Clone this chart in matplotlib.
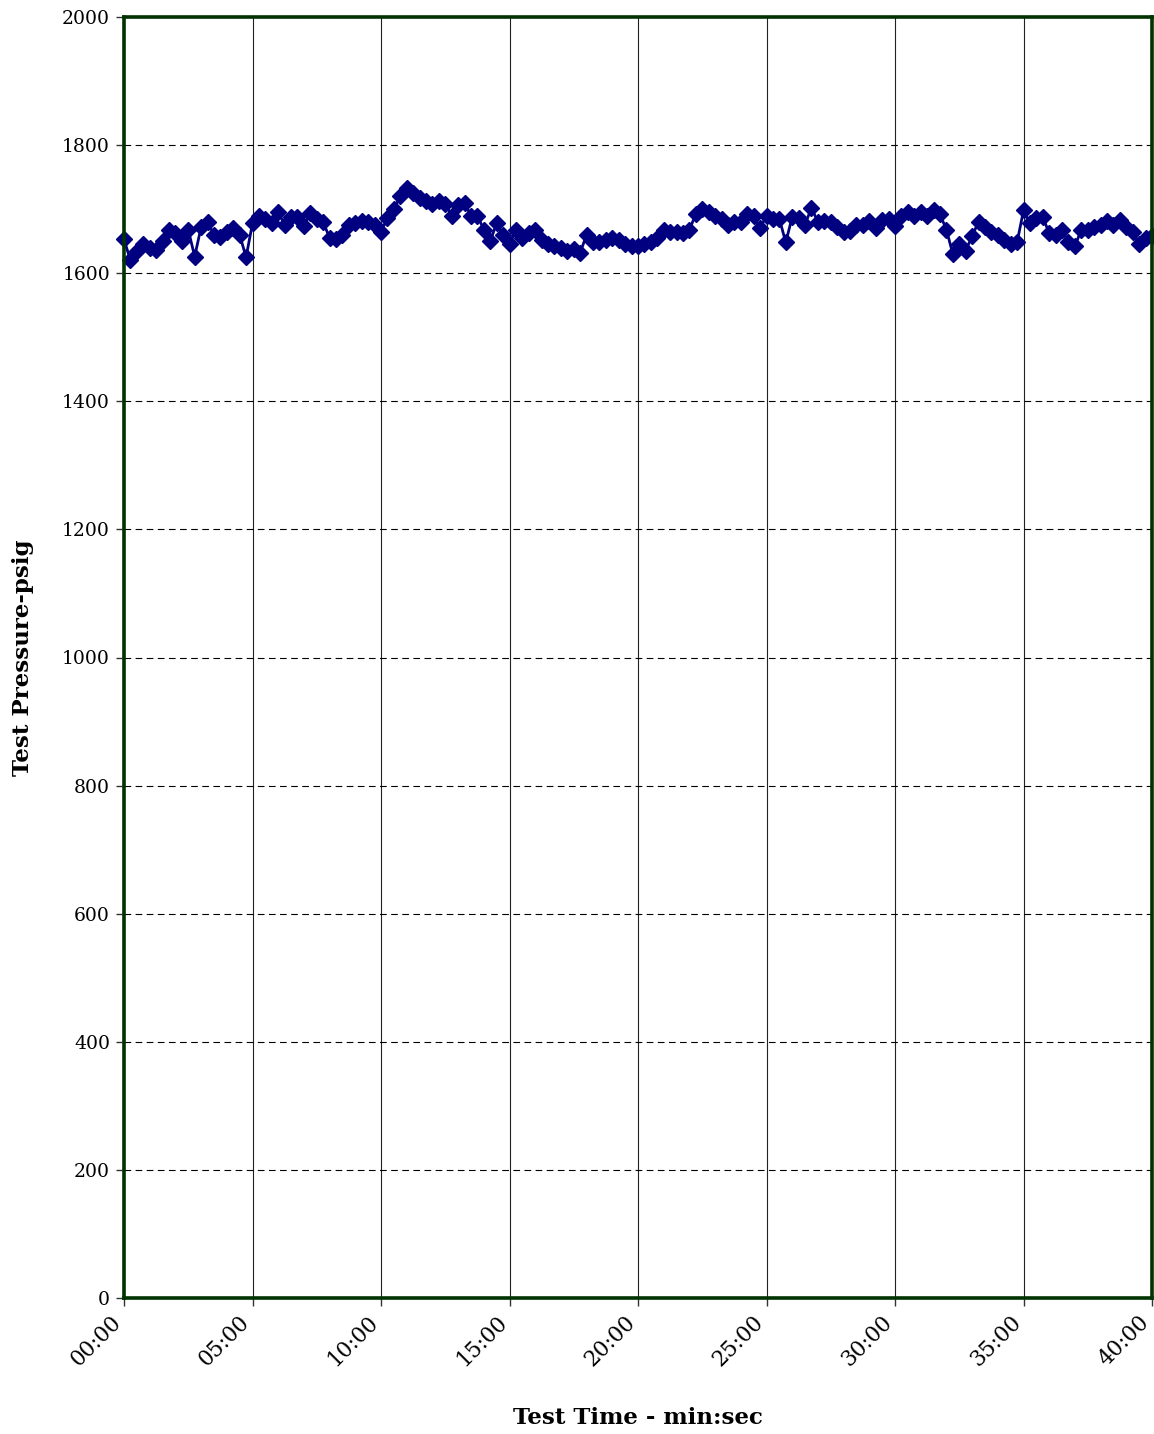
import matplotlib
matplotlib.use("Agg")
import matplotlib.pyplot as plt
import numpy as np
from matplotlib.ticker import FixedLocator, FuncFormatter
from matplotlib.transforms import ScaledTranslation

# Data: test pressure sampled every 15 s over 40 minutes
interval_min = 0.25
pressure = [
    1653, 1620, 1635, 1645, 1640, 1636, 1650, 1668, 1662, 1650,
    1668, 1626, 1672, 1680, 1660, 1657, 1665, 1670, 1660, 1625,
    1678, 1690, 1685, 1678, 1695, 1676, 1688, 1688, 1674, 1694,
    1685, 1680, 1655, 1654, 1660, 1675, 1678, 1682, 1680, 1675,
    1665, 1686, 1700, 1720, 1733, 1725, 1718, 1712, 1708, 1712,
    1708, 1690, 1706, 1710, 1690, 1690, 1668, 1650, 1678, 1660,
    1645, 1668, 1655, 1662, 1668, 1652, 1645, 1642, 1640, 1635,
    1638, 1632, 1660, 1648, 1648, 1652, 1655, 1652, 1645, 1642,
    1643, 1645, 1648, 1655, 1668, 1665, 1665, 1662, 1668, 1692,
    1700, 1695, 1690, 1685, 1676, 1680, 1680, 1692, 1690, 1670,
    1690, 1685, 1685, 1648, 1688, 1686, 1676, 1702, 1680, 1682,
    1680, 1672, 1664, 1666, 1676, 1676, 1682, 1670, 1683, 1685,
    1673, 1690, 1695, 1690, 1695, 1690, 1698, 1692, 1668, 1630,
    1645, 1635, 1658, 1680, 1672, 1665, 1660, 1652, 1645, 1648,
    1698, 1678, 1686, 1688, 1662, 1660, 1668, 1648, 1642, 1668,
    1668, 1672, 1675, 1682, 1676, 1683, 1672, 1665, 1645, 1655,
    1658,
]
time_min = np.arange(len(pressure)) * interval_min

x_ticks = [0, 5, 10, 15, 20, 25, 30, 35, 40]
y_ticks = [0, 200, 400, 600, 800, 1000, 1200, 1400, 1600, 1800, 2000]

plt.rcParams['font.family'] = ['DejaVu Serif']

fig = plt.figure(figsize=(11.54, 14.34), dpi=100)
ax = fig.add_axes([124 / 1154, 1 - 1298 / 1434, (1152 - 124) / 1154, (1298 - 17) / 1434])

ax.plot(time_min, pressure, color='#000080', lw=2, marker='D', markersize=8,
        markerfacecolor='#000080', markeredgecolor='#000080', zorder=3, clip_on=False)

ax.set_xlim(0, 40)
ax.set_ylim(0, 2000)
ax.xaxis.set_major_locator(FixedLocator(x_ticks))
ax.yaxis.set_major_locator(FixedLocator(y_ticks))
ax.xaxis.set_major_formatter(FuncFormatter(lambda v, p: f"{int(round(v)):02d}:00"))

ax.xaxis.grid(True, color='#222222', lw=0.8, ls='-')
ax.yaxis.grid(True, color='black', lw=0.8, ls=(0, (6, 4)))
ax.set_axisbelow(True)

for s in ax.spines.values():
    s.set_color('#003300')
    s.set_linewidth(2.6)
    s.set_zorder(4)

ax.tick_params(axis='y', direction='out', length=6, width=1, color='#333333',
               labelsize=13.5, pad=4)
ax.tick_params(axis='x', direction='out', length=6, width=1, color='#333333',
               labelsize=15.5, pad=9)
offset = ScaledTranslation(-6 / 100, 0, fig.dpi_scale_trans)
for lab in ax.get_xticklabels():
    lab.set_rotation(45)
    lab.set_ha('right')
    lab.set_va('center')
    lab.set_rotation_mode('anchor')
    lab.set_transform(lab.get_transform() + offset)

ax.set_ylabel('Test Pressure-psig', fontsize=16.5, fontweight='bold', labelpad=20)
ax.set_xlabel('Test Time - min:sec', fontsize=16.5, fontweight='bold', labelpad=26)

fig.savefig('out.png', dpi=100)
